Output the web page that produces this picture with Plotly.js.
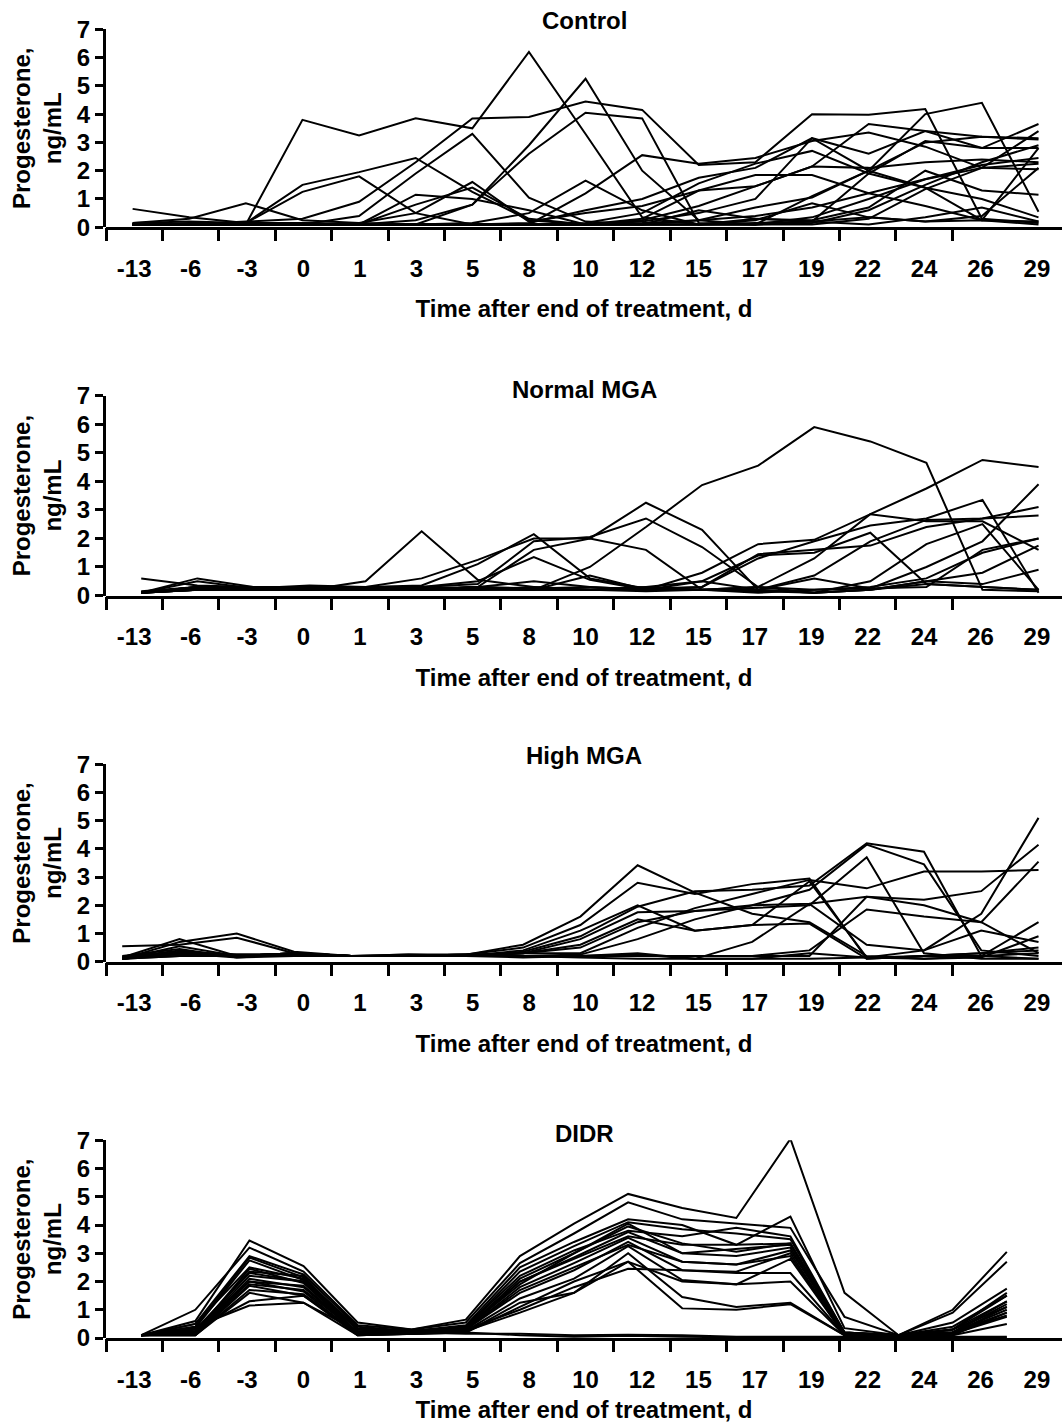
<!DOCTYPE html>
<html>
<head>
<meta charset="utf-8">
<script src="https://cdn.plot.ly/plotly-3.0.1.min.js"></script>
<style>html,body{margin:0;padding:0;background:#fff;}#chart{width:1062px;height:1423px;}</style>
</head>
<body>
<div id="chart"></div>
<script>
// Sampling days (category labels on the x axis)
const days = ["-13","-6","-3","0","1","3","5","8","10","12","15","17","19","22","24","26","29"];

// Panel titles
const panelTitles = ["Control","Normal MGA","High MGA","DIDR"];

// Progesterone (ng/mL), one array per animal, values at the days above
const control = [
  [0.65,0.35,0.15,0.15,0.1,0.1,0.1,0.1,0.1,0.15,0.25,0.4,0.7,1.2,1.7,2.2,2.45],
  [0.15,0.3,0.85,0.25,0.15,0.1,0.1,0.15,0.6,1.0,1.75,2.1,3.15,2.6,3.4,2.8,2.8],
  [0.1,0.1,0.1,3.8,3.25,3.85,3.5,6.2,3.3,0.35,0.1,0.15,0.2,0.35,0.2,0.25,0.2],
  [0.15,0.2,0.15,1.5,1.95,2.45,1.25,0.25,0.1,0.25,0.75,1.45,2.15,2.1,2.3,2.4,2.3],
  [0.1,0.15,0.15,1.25,1.8,0.5,0.1,0.1,0.15,0.5,1.55,2.25,2.7,1.9,1.4,1.0,0.35],
  [0.1,0.1,0.2,0.3,0.9,2.3,3.85,3.9,4.45,4.15,2.2,2.3,4.0,3.98,4.18,0.3,0.15],
  [0.1,0.1,0.1,0.1,0.4,1.9,3.3,1.05,0.2,0.1,0.25,0.7,1.05,2.0,3.0,3.2,3.15],
  [0.1,0.1,0.1,0.1,0.1,1.15,1.0,0.6,0.1,0.1,0.1,0.25,0.85,0.35,0.2,0.4,2.1],
  [0.1,0.1,0.1,0.1,0.15,0.5,1.6,0.2,0.5,0.75,1.3,1.85,1.85,1.2,0.75,0.25,0.1],
  [0.1,0.1,0.1,0.15,0.1,0.8,1.4,0.3,0.1,0.1,0.1,0.1,0.35,1.0,1.7,2.1,3.4],
  [0.1,0.1,0.1,0.1,0.1,0.25,0.8,2.6,4.05,3.85,0.15,0.1,0.15,0.6,1.5,2.3,2.9],
  [0.1,0.1,0.1,0.1,0.1,0.1,0.8,2.9,5.25,2.0,0.25,0.1,0.1,0.3,1.35,2.1,2.25],
  [0.1,0.1,0.1,0.1,0.1,0.1,0.15,0.5,1.65,0.6,0.1,0.1,0.2,1.9,3.05,2.8,3.65],
  [0.1,0.1,0.1,0.1,0.1,0.1,0.1,0.1,1.2,2.55,2.25,2.45,3.05,3.35,2.85,2.1,2.05],
  [0.1,0.1,0.1,0.1,0.1,0.1,0.1,0.1,0.1,0.3,1.3,1.45,2.15,3.65,3.4,3.2,3.1],
  [0.1,0.1,0.1,0.1,0.1,0.1,0.1,0.1,0.1,0.1,0.1,0.1,1.1,2.0,4.0,4.4,0.55],
  [0.1,0.1,0.1,0.1,0.1,0.1,0.1,0.1,0.1,0.2,0.5,1.0,3.15,2.0,1.4,0.25,2.8],
  [0.1,0.1,0.1,0.1,0.1,0.1,0.1,0.1,0.1,0.1,0.1,0.3,0.25,0.7,2.0,1.3,1.15],
  [0.1,0.1,0.1,0.1,0.1,0.1,0.1,0.1,0.1,0.1,0.6,0.3,0.2,0.1,0.35,0.7,0.2]
];

const normalMGA = [
  [0.1,0.3,0.25,0.3,0.25,0.2,0.3,0.2,1.0,2.4,3.87,4.55,5.9,5.4,4.65,0.2,0.15],
  [0.6,0.35,0.3,0.25,0.3,0.6,1.25,2.0,2.0,3.25,2.3,0.2,0.1,0.2,0.4,0.3,0.2],
  [0.1,0.6,0.3,0.2,0.5,2.25,0.55,0.3,0.2,0.15,0.2,0.3,1.3,2.85,3.75,4.75,4.5],
  [0.1,0.5,0.25,0.35,0.3,0.35,1.1,2.15,0.6,0.25,0.3,1.45,1.6,1.75,2.4,2.7,3.1],
  [0.1,0.2,0.25,0.3,0.25,0.3,0.4,1.9,2.05,2.7,1.7,0.3,0.2,0.25,0.3,1.6,2.0],
  [0.1,0.3,0.2,0.2,0.3,0.2,0.3,1.6,2.0,1.6,0.2,0.15,0.1,0.2,0.5,0.8,1.75],
  [0.15,0.3,0.3,0.25,0.2,0.3,0.5,1.35,0.55,0.2,0.3,1.3,1.9,2.45,2.7,3.35,0.1],
  [0.1,0.25,0.2,0.3,0.3,0.25,0.3,0.5,0.3,0.2,0.5,1.4,1.5,2.2,0.4,0.3,0.2],
  [0.1,0.3,0.25,0.2,0.2,0.2,0.2,0.2,0.7,0.2,0.8,1.8,1.95,2.85,2.6,2.6,1.6],
  [0.1,0.2,0.2,0.25,0.25,0.2,0.2,0.3,0.2,0.3,0.5,0.2,0.6,0.25,1.0,1.9,3.9],
  [0.1,0.2,0.2,0.2,0.2,0.2,0.3,0.25,0.3,0.2,0.2,0.3,0.1,0.5,1.8,2.5,0.2],
  [0.1,0.3,0.25,0.25,0.3,0.3,0.25,0.2,0.2,0.3,0.2,0.1,0.2,0.3,0.6,1.5,2.0],
  [0.1,0.2,0.2,0.2,0.2,0.2,0.2,0.2,0.2,0.2,0.2,0.2,0.1,0.2,0.5,0.4,0.9],
  [0.1,0.2,0.3,0.3,0.3,0.2,0.3,0.2,0.2,0.2,0.2,0.2,0.7,1.9,2.65,2.7,2.8]
];

const highMGA = [
  [0.55,0.6,0.85,0.3,0.2,0.2,0.25,0.6,1.6,3.42,2.45,1.7,1.4,0.2,0.1,0.2,0.3],
  [0.15,0.8,0.2,0.3,0.2,0.2,0.25,0.5,1.3,2.8,2.4,2.75,2.95,0.1,0.2,0.3,0.5],
  [0.1,0.7,1.0,0.35,0.2,0.25,0.2,0.4,1.1,2.0,1.1,1.3,2.85,0.15,0.1,0.15,0.9],
  [0.2,0.45,0.15,0.25,0.2,0.2,0.2,0.35,0.9,1.95,2.5,2.55,2.7,4.2,3.9,0.2,0.1],
  [0.1,0.55,0.2,0.3,0.2,0.25,0.25,0.3,0.8,1.75,1.8,2.0,2.55,4.15,3.45,0.4,0.2],
  [0.1,0.3,0.25,0.25,0.2,0.2,0.2,0.3,0.5,1.4,1.8,1.9,2.0,3.7,0.3,0.1,0.1],
  [0.15,0.4,0.2,0.3,0.2,0.2,0.2,0.3,0.3,1.2,1.9,2.4,2.9,2.6,3.2,3.2,3.25],
  [0.1,0.3,0.2,0.3,0.2,0.2,0.2,0.2,0.25,0.8,1.5,2.0,2.05,2.3,2.2,2.5,4.15],
  [0.1,0.35,0.25,0.25,0.2,0.2,0.25,0.2,0.2,0.3,0.1,0.7,2.05,0.6,0.4,1.7,5.1],
  [0.1,0.2,0.2,0.3,0.2,0.2,0.2,0.2,0.2,0.2,0.2,0.2,0.4,1.85,1.6,1.4,3.55],
  [0.1,0.3,0.15,0.2,0.2,0.2,0.2,0.2,0.15,0.1,0.1,0.1,0.1,0.15,0.4,1.1,0.7],
  [0.15,0.25,0.2,0.25,0.2,0.2,0.2,0.2,0.2,0.25,0.1,0.1,0.3,0.15,0.2,0.2,1.4],
  [0.1,0.3,0.2,0.3,0.2,0.2,0.2,0.3,0.6,1.5,1.1,1.3,1.35,0.1,0.2,0.3,0.4],
  [0.1,0.2,0.2,0.2,0.2,0.2,0.2,0.15,0.2,0.2,0.2,0.2,0.2,2.3,2.0,1.4,0.3]
];

const didr = [
  [0.1,0.6,3.45,2.55,0.55,0.3,0.65,2.9,4.05,5.1,4.6,4.25,7.05,1.6,0.1,0.9,2.7],
  [0.1,1.0,3.2,2.35,0.45,0.3,0.55,2.65,3.7,4.8,4.2,4.05,3.9,0.75,0.1,1.0,3.05],
  [0.1,0.5,2.9,2.25,0.4,0.25,0.45,2.5,3.4,4.2,4.0,3.3,4.3,0.35,0.1,0.55,1.75],
  [0.1,0.4,2.85,2.15,0.3,0.25,0.4,2.35,3.25,4.1,3.85,3.7,3.5,0.2,0.1,0.4,1.5],
  [0.1,0.35,2.75,2.05,0.3,0.2,0.35,2.1,3.0,3.95,3.35,3.05,3.35,0.15,0.05,0.3,1.3],
  [0.1,0.2,2.45,1.95,0.2,0.2,0.35,2.0,2.85,3.75,3.0,2.9,3.2,0.1,0.05,0.3,1.1],
  [0.1,0.2,2.35,2.2,0.15,0.2,0.3,1.8,2.65,3.55,2.7,2.6,3.1,0.2,0.1,0.2,1.0],
  [0.1,0.15,2.1,1.8,0.15,0.2,0.3,1.6,2.4,3.4,2.4,2.35,3.0,0.1,0.1,0.2,0.9],
  [0.1,0.15,2.0,1.65,0.1,0.15,0.25,1.4,2.1,3.25,2.05,1.9,2.8,0.1,0.05,0.15,0.75],
  [0.1,0.1,1.85,1.5,0.1,0.15,0.2,1.25,1.6,3.0,1.45,1.1,1.25,0.1,0.05,0.1,0.5],
  [0.1,0.1,1.6,1.25,0.1,0.15,0.2,1.1,2.0,2.7,1.05,1.0,1.2,0.1,0.05,0.1,0.9],
  [0.1,0.3,1.3,1.5,0.2,0.2,0.3,1.0,1.8,2.45,2.4,2.3,2.3,0.1,0.1,0.15,1.1],
  [0.1,0.4,1.15,1.25,0.25,0.2,0.25,0.9,1.6,2.7,2.0,1.9,2.0,0.1,0.1,0.2,0.8],
  [0.1,0.2,2.2,2.0,0.2,0.2,0.3,2.0,2.8,3.6,3.3,3.3,3.35,0.2,0.1,0.2,1.3],
  [0.1,0.3,2.3,2.0,0.3,0.25,0.35,1.9,3.0,4.05,3.0,3.15,3.3,0.15,0.1,0.3,1.5],
  [0.1,0.25,2.0,1.85,0.2,0.2,0.3,1.7,2.5,3.3,2.7,2.6,2.9,0.1,0.05,0.2,1.2],
  [0.1,0.5,2.5,2.1,0.35,0.25,0.4,2.2,3.1,3.8,3.6,3.9,3.6,0.2,0.1,0.3,1.6],
  [0.1,0.15,1.9,1.7,0.2,0.2,0.15,0.15,0.1,0.12,0.1,0.05,0.05,0.05,0.05,0.05,0.05],
  [0.1,0.1,1.7,1.55,0.15,0.15,0.2,0.1,0.05,0.08,0.05,0.02,0.02,0.02,0.02,0.02,0.02]
];

const groups = [control, normalMGA, highMGA, didr];

// ---- layout helpers ----
const FONT = "Liberation Sans, Arial, Helvetica, sans-serif";
const yDomains = [[0.8403,0.9794],[0.5815,0.7219],[0.3242,0.4629],[0.0597,0.1987]];
const dataRanges = [[-0.47,16.415],[-0.628,16.418],[-0.283,16.41],[-0.651,17.02]];
const titleY = [0.9855,0.7266,0.4694,0.2034];
const idx = days.map((d,i)=>i);
const bounds = days.slice(0,16).map((d,i)=>i-0.5);
const noY = days.map(()=>null);

const traces = [];
const layout = {
  width:1062, height:1423,
  margin:{l:106,r:0,t:0,b:0},
  paper_bgcolor:"#fff", plot_bgcolor:"rgba(0,0,0,0)",
  showlegend:false, hovermode:false,
  font:{family:FONT,color:"#000",size:24},
  annotations:[]
};
const bfont = {family:FONT,size:24,color:"#000",weight:"bold"};

groups.forEach((grp,p)=>{
  const n = p+1, nl = p+5, nt = p+9;
  const xa = n===1?"xaxis":"xaxis"+n;
  const ya = n===1?"yaxis":"yaxis"+n;
  const xr = n===1?"x":"x"+n;
  const yr = n===1?"y":"y"+n;
  // data subplot: hidden category x axis + visible y axis
  layout[xa] = {
    type:"category", categoryorder:"array", categoryarray:days,
    domain:[0,1], anchor:yr, range:dataRanges[p], visible:false, fixedrange:true
  };
  layout[ya] = {
    domain:yDomains[p], anchor:xr, range:[0,7],
    tickmode:"array", tickvals:[0,1,2,3,4,5,6,7],
    ticks:"outside", ticklen:8, tickwidth:3, tickcolor:"#000",
    showline:true, linewidth:3, linecolor:"#000",
    showgrid:false, zeroline:false, fixedrange:true,
    tickfont:bfont,
    title:{text:"Progesterone,<br>ng/mL", font:bfont, standoff:9}
  };
  // label subplot on the same area: x axis line with day labels
  layout["xaxis"+nl] = {
    type:"linear", domain:[0,1], anchor:"y"+nl, range:[-0.5,16.444],
    tickmode:"array", tickvals:idx, ticktext:days,
    ticks:"outside", ticklen:18, tickcolor:"rgba(0,0,0,0)", tickwidth:1,
    showline:true, linewidth:3, linecolor:"#000",
    showgrid:false, zeroline:false, fixedrange:true,
    tickfont:bfont,
    title:{text:"Time after end of treatment, d", font:bfont, standoff:20}
  };
  layout["yaxis"+nl] = {
    domain:yDomains[p], anchor:"x"+nl, range:[0,7], visible:false, fixedrange:true
  };
  // tick-mark subplot: ticks at the boundaries between days
  layout["xaxis"+nt] = {
    type:"linear", domain:[0,1], anchor:"y"+nt, range:[-0.5,16.444],
    tickmode:"array", tickvals:bounds, showticklabels:false,
    ticks:"outside", ticklen:13, tickwidth:3, tickcolor:"#000",
    showline:false, showgrid:false, zeroline:false, fixedrange:true
  };
  layout["yaxis"+nt] = {
    domain:yDomains[p], anchor:"x"+nt, range:[0,7], visible:false, fixedrange:true
  };
  layout.annotations.push({
    text:panelTitles[p], xref:"paper", yref:"paper", x:0.5, y:titleY[p],
    xanchor:"center", yanchor:"middle", showarrow:false,
    font:bfont
  });
  grp.forEach(vals=>{
    traces.push({
      type:"scatter", mode:"lines", x:days, y:vals,
      xaxis:xr, yaxis:yr,
      line:{color:"#000",width:2}, hoverinfo:"skip"
    });
  });
  // placeholder traces (no drawn marks) so the label and tick axes exist
  [["x"+nl,"y"+nl],["x"+nt,"y"+nt]].forEach(([ax,ay])=>{
    traces.push({type:"scatter", mode:"lines", x:idx, y:noY, xaxis:ax, yaxis:ay,
      line:{color:"rgba(0,0,0,0)",width:0}, hoverinfo:"skip", showlegend:false});
  });
});

Plotly.newPlot("chart", traces, layout, {staticPlot:true, displayModeBar:false});
</script>
</body>
</html>
